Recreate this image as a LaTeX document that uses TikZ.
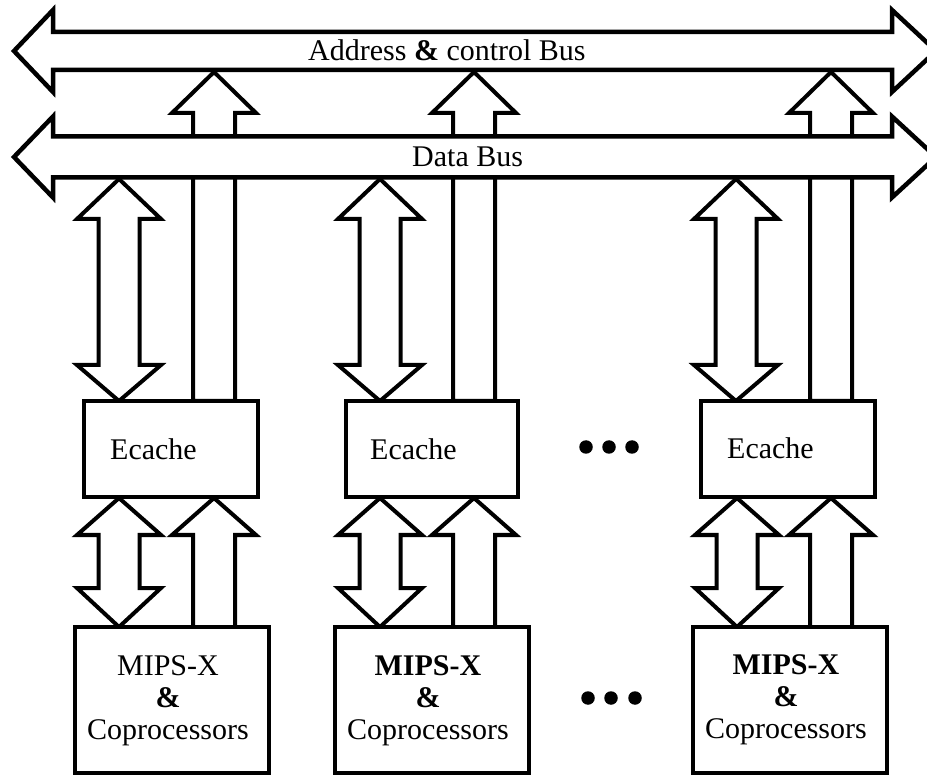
\documentclass[tikz,border=0pt]{standalone}
\usepackage{fontspec}
\setmainfont{Liberation Serif}
\tikzset{
  blk/.style={draw=black, fill=white, line width=4pt, line join=miter},
  busblk/.style={blk, line width=4.5pt},
  boxstyle/.style={draw=black, fill=white, line width=4pt, inner sep=0pt},
  txt/.style={font=\fontsize{30}{32}\selectfont, inner sep=0pt},
  dotstyle/.style={circle, fill=black, inner sep=0pt, minimum size=13.5pt}
}
% horizontal bus: y-centre, half shaft, half head
\newcommand{\hbusarrow}[3]{%
  \draw[busblk] (14,#1) -- (53,{#1-#3}) -- (53,{#1-#2}) -- (892,{#1-#2}) -- (892,{#1-#3})
    -- (936,#1) -- (892,{#1+#3}) -- (892,{#1+#2}) -- (53,{#1+#2}) -- (53,{#1+#3}) -- cycle;}
% single up arrow: centre x, tip y, head base y, bottom y
\newcommand{\uparrowblk}[4]{%
  \draw[blk] (#1,#2) -- ({#1+42},#3) -- ({#1+21},#3) -- ({#1+21},#4) -- ({#1-21},#4)
    -- ({#1-21},#3) -- ({#1-42},#3) -- cycle;}
% double vertical arrow: centre x, top tip, upper base, lower base, bottom tip
\newcommand{\dblarrowblk}[5]{%
  \draw[blk] (#1,#2) -- ({#1+42},#3) -- ({#1+20.5},#3) -- ({#1+20.5},#4) -- ({#1+42},#4)
    -- (#1,#5) -- ({#1-42},#4) -- ({#1-20.5},#4) -- ({#1-20.5},#3) -- ({#1-42},#3) -- cycle;}
\begin{document}
\begin{tikzpicture}[x=1pt,y=-1pt]
\useasboundingbox (0,0) rectangle (927,775);
\fill[white] (0,0) rectangle (927,775);

% address arrows (from Ecache tops up to the address bus)
\uparrowblk{214}{72}{113}{401}
\uparrowblk{474}{72}{113}{401}
\uparrowblk{831}{72}{113}{401}

% buses
\hbusarrow{157}{20.5}{40.5}
\hbusarrow{51}{19}{41}
\node[txt, anchor=base west] (addrlbl) at (308,61) {Address \textbf{\&} control Bus};
\node[txt, anchor=base west] (datalbl) at (412,167) {Data Bus};

% data arrows between data bus and Ecache
\dblarrowblk{119}{179}{219}{365}{401}
\dblarrowblk{380}{179}{219}{365}{401}
\dblarrowblk{736}{179}{219}{365}{401}

% Ecache boxes
\node[boxstyle, minimum width=174pt, minimum height=96pt] (ec1) at (171,449) {};
\node[boxstyle, minimum width=172pt, minimum height=96pt] (ec2) at (432,449) {};
\node[boxstyle, minimum width=174pt, minimum height=96pt] (ec3) at (788,449) {};
\node[txt, anchor=base west] (ec1t) at (110,460) {Ecache};
\node[txt, anchor=base west] (ec2t) at (370,460) {Ecache};
\node[txt, anchor=base west] (ec3t) at (727,459) {Ecache};

% arrows between Ecache and processors
\dblarrowblk{119}{498}{535}{588}{627}
\dblarrowblk{380}{498}{535}{588}{627}
\dblarrowblk{737}{498}{535}{588}{627}
\uparrowblk{214}{498}{535}{627}
\uparrowblk{474}{498}{535}{627}
\uparrowblk{831}{498}{535}{627}

% processor boxes
\node[boxstyle, minimum width=194pt, minimum height=146pt] (mp1) at (172,700) {};
\node[boxstyle, minimum width=194pt, minimum height=146pt] (mp2) at (432,700) {};
\node[boxstyle, minimum width=194pt, minimum height=146pt] (mp3) at (790,700) {};
\node[txt, align=center] (mp1t) at (168,701) {MIPS-X\\\textbf{\&}\\Coprocessors};
\node[txt, align=center] (mp2t) at (428,701) {\textbf{MIPS-X}\\\textbf{\&}\\Coprocessors};
\node[txt, align=center] (mp3t) at (786,700) {\textbf{MIPS-X}\\\textbf{\&}\\Coprocessors};

% ellipsis dots
\node[dotstyle] (d1) at (586,447) {};
\node[dotstyle] (d2) at (609,447) {};
\node[dotstyle] (d3) at (632,447) {};
\node[dotstyle] (d4) at (588,698) {};
\node[dotstyle] (d5) at (611,698) {};
\node[dotstyle] (d6) at (635,698) {};
\end{tikzpicture}
\end{document}
